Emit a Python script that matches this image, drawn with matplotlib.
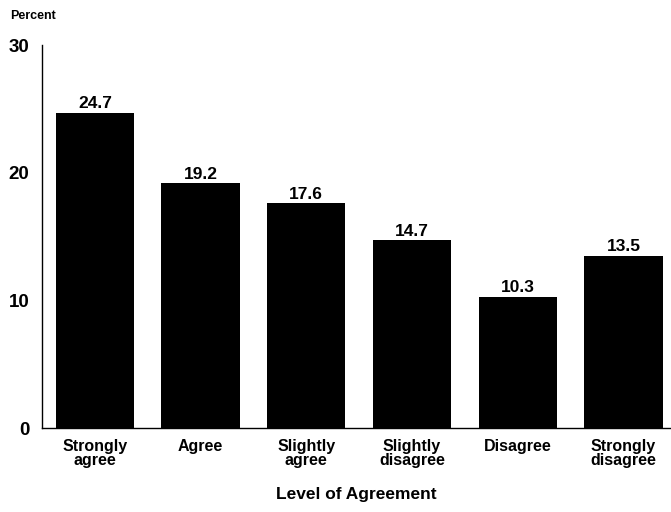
import matplotlib
matplotlib.use("Agg")
import matplotlib.pyplot as plt

categories = ["Strongly\nagree", "Agree", "Slightly\nagree", "Slightly\ndisagree", "Disagree", "Strongly\ndisagree"]
percents = [24.7, 19.2, 17.6, 14.7, 10.3, 13.5]
yticks = [0, 10, 20, 30]

plt.rcParams['font.family'] = ['Liberation Sans', 'DejaVu Sans']

fig = plt.figure(figsize=(6.71, 5.12), dpi=100)
ax = fig.add_axes([0.0626, 0.164, 0.9374, 0.748])

x = list(range(len(categories)))
bars = ax.bar(x, percents, width=0.74, color="black")
for xi, v in zip(x, percents):
    ax.text(xi, v + 0.1, f"{v:.1f}", ha="center", va="bottom", fontsize=12.5, fontweight="bold")

ax.set_xlim(-0.5, 5.45)
ax.set_ylim(0, 30)
ax.set_yticks(yticks)
ax.set_yticklabels([str(t) for t in yticks], fontsize=13.5, fontweight="bold")
ax.set_xticks(x)
ax.set_xticklabels(categories, fontsize=11.5, fontweight="bold", linespacing=0.88)
ax.tick_params(axis="x", length=0, pad=8)
ax.tick_params(axis="y", length=0, pad=9)
for s in ["top", "right"]:
    ax.spines[s].set_visible(False)
ax.spines["left"].set_linewidth(1)
ax.spines["bottom"].set_linewidth(1)
ax.set_xlabel("Level of Agreement", fontsize=12.5, fontweight="bold", labelpad=14)

fig.text(0.015, 0.968, "Percent", fontsize=9, fontweight="bold", ha="left", va="center")

fig.savefig("out.png", dpi=100)
